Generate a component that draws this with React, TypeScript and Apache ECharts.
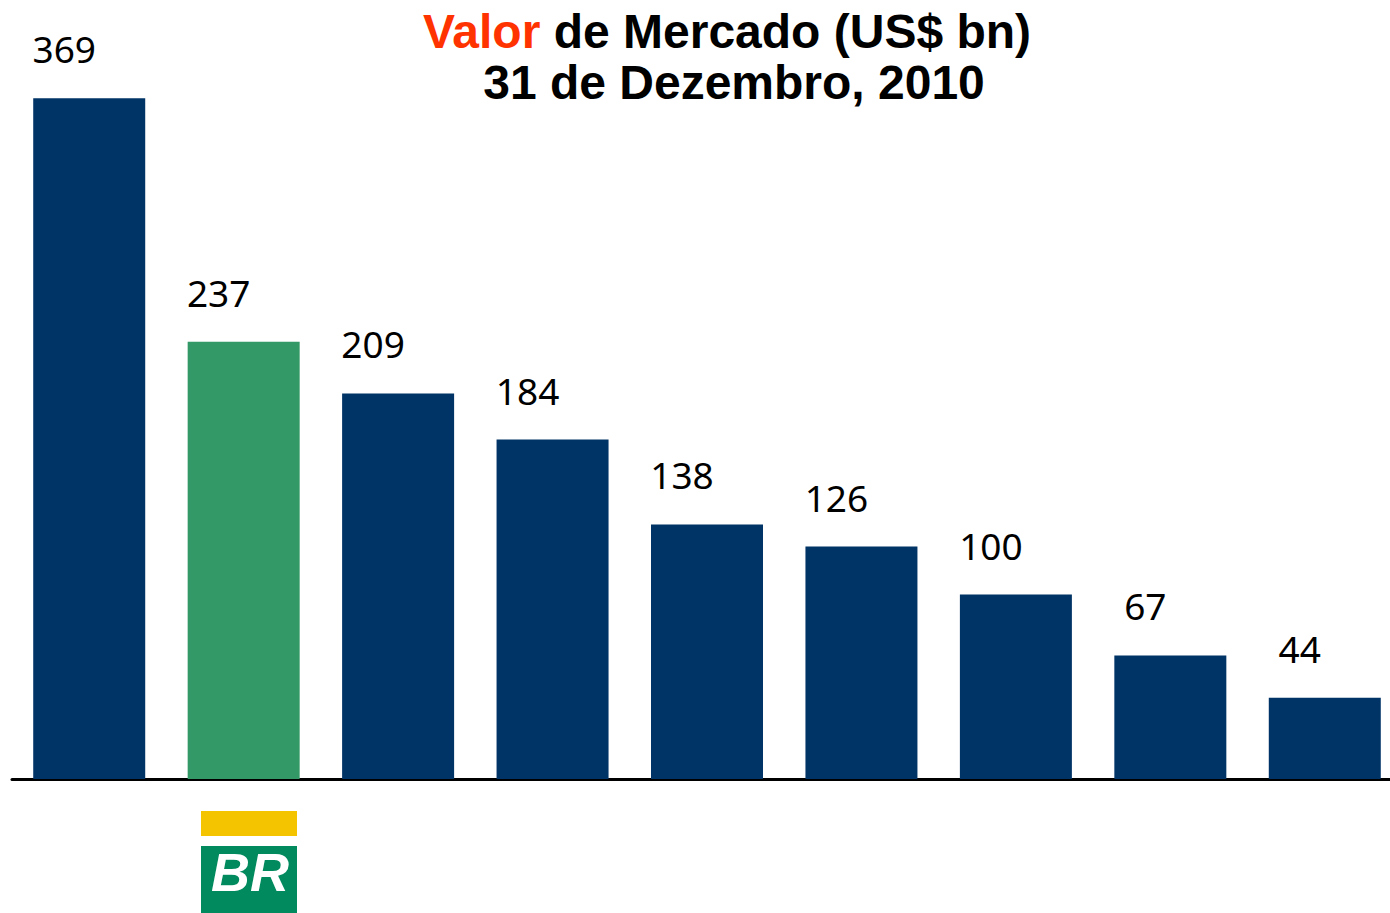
import React, { useEffect, useRef } from "react";
import * as echarts from "echarts";

const categories = ["ExxonMobil", "Petrobras", "Shell", "Chevron", "BP", "Total", "ConocoPhillips", "Statoil", "Repsol"];
const values = [369, 237, 209, 184, 138, 126, 100, 67, 44];
const highlight = "Petrobras";

const NAVY = "#003366";
const GREEN = "#339966";

export default function App() {
  const ref = useRef<HTMLDivElement>(null);
  useEffect(() => {
    if (!ref.current) return;
    const chart = echarts.init(ref.current, null, { renderer: "svg" });
    const rich = {
      r: { fontFamily: "Liberation Sans", fontWeight: "bold", fontSize: 48, color: "#ff3300", lineHeight: 51 },
      b: { fontFamily: "Liberation Sans", fontWeight: "bold", fontSize: 48, color: "#000000", lineHeight: 51 },
    };
    chart.setOption({
      animation: false,
      backgroundColor: "#ffffff",
      title: [
        {
          left: 722,
          top: 1,
          textAlign: "center",
          text: "{r|Valor}{b| de Mercado (US$ bn)}",
          textStyle: { rich },
        },
        {
          left: 729,
          top: 52,
          textAlign: "center",
          text: "{b|31 de Dezembro, 2010}",
          textStyle: { rich },
        },
      ],
      grid: { left: 12, right: 0, top: 41, bottom: 134, containLabel: false },
      xAxis: {
        type: "category",
        data: categories,
        axisLine: { show: true, lineStyle: { color: "#000000", width: 3 } },
        axisTick: { show: false },
        axisLabel: { show: false },
      },
      yAxis: {
        type: "value",
        min: 0,
        max: 400,
        show: false,
        splitLine: { show: false },
      },
      series: [
        {
          type: "bar",
          barWidth: 112,
          data: values.map((v, i) => ({
            value: v,
            itemStyle: { color: categories[i] === highlight ? GREEN : NAVY },
          })),
          label: {
            show: true,
            position: "top",
            distance: 31,
            offset: [-25, 0],
            fontFamily: "Noto Sans",
            fontSize: 37,
            color: "#000000",
          },
        },
      ],
      graphic: [
        { type: "rect", left: 201, top: 811, shape: { width: 96, height: 25 }, style: { fill: "#f5c400" } },
        { type: "rect", left: 201, top: 846, shape: { width: 96, height: 67 }, style: { fill: "#008a5e" } },
        {
          type: "text",
          x: 250,
          y: 872,
          style: {
            text: "BR",
            fill: "#ffffff",
            font: "italic bold 54px 'Liberation Sans'",
            align: "center",
            verticalAlign: "middle",
          },
        },
      ],
    });
    return () => chart.dispose();
  }, []);
  return (
    <div style={{ position: "absolute", left: 0, top: 0, width: 1390, height: 913, overflow: "hidden" }}>
      <div ref={ref} style={{ position: "absolute", left: 0, top: 0, width: 1402, height: 913 }} />
    </div>
  );
}
